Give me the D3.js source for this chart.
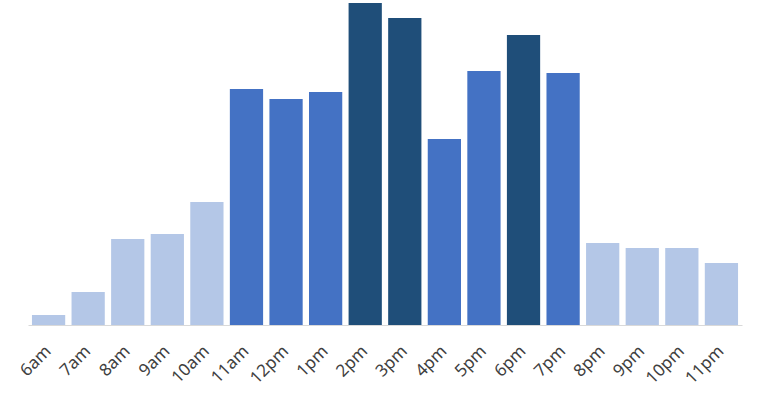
<!DOCTYPE html>
<html>
<head>
<meta charset="utf-8">
<script src="https://cdn.jsdelivr.net/npm/d3@7"></script>
<style>
  body { margin: 0; background: #fff; }
  svg { display: block; }
</style>
</head>
<body>
<div id="chart"></div>
<script>
// hours shown along the axis
const hours = ["6am", "7am", "8am", "9am", "10am", "11am", "12pm", "1pm", "2pm",
  "3pm", "4pm", "5pm", "6pm", "7pm", "8pm", "9pm", "10pm", "11pm"];
// bar values
const values = [10, 33, 86, 91, 123, 236, 226, 233, 322, 307, 186, 254, 290, 252, 82, 77, 77, 62];
// colour group per bar: 0 = low, 1 = mid, 2 = peak
const levels = [0, 0, 0, 0, 0, 1, 1, 1, 2, 2, 1, 1, 2, 1, 0, 0, 0, 0];
const levelColors = ["#b4c7e7", "#4472c4", "#1f4e79"];

const width = 765, height = 400;
const margin = { top: 3, right: 23, bottom: 75, left: 28 };

const svg = d3.select("#chart").append("svg")
  .attr("width", width)
  .attr("height", height);

const x = d3.scaleBand()
  .domain(hours)
  .range([margin.left, width - margin.right])
  .paddingInner(0.16)
  .paddingOuter(0.1);

const y = d3.scaleLinear()
  .domain([0, d3.max(values)])
  .range([height - margin.bottom, margin.top]);

const data = hours.map((h, i) => ({ hour: h, value: values[i], level: levels[i] }));

svg.append("g")
  .selectAll("rect")
  .data(data)
  .join("rect")
  .attr("x", d => x(d.hour))
  .attr("y", d => y(d.value))
  .attr("width", x.bandwidth())
  .attr("height", d => y(0) - y(d.value))
  .attr("fill", d => levelColors[d.level]);

// x axis
const xAxis = svg.append("g")
  .attr("transform", `translate(0,${y(0)})`)
  .call(d3.axisBottom(x).tickSize(0).tickSizeOuter(0));

xAxis.select(".domain")
  .attr("stroke", "#d9d9d9")
  .attr("stroke-width", 1);

xAxis.selectAll("text")
  .attr("font-family", "'Noto Sans', 'Open Sans', sans-serif")
  .attr("font-size", "17px")
  .attr("fill", "#404040")
  .attr("text-anchor", "end")
  .attr("dy", "0.35em")
  .attr("transform", "translate(-3,21) rotate(-45)");
</script>
</body>
</html>
